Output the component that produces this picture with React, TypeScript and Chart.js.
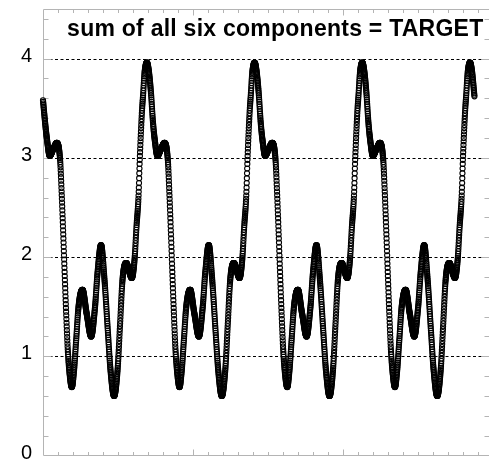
import React, { useEffect, useRef } from "react";
import { Chart, registerables } from "chart.js";

Chart.register(...registerables);

// x positions (sample index) of the key points
const X_VALUES: number[] = [
  0, 15, 27, 45, 69, 92, 114, 124, 134, 144, 154, 165, 177, 192, 207, 221, 237, 263, 291, 321,
  347, 363, 387, 410, 432, 450, 474, 497, 514, 530, 554, 592, 610, 623, 637, 645, 659, 667, 676, 684,
  692, 705, 720, 733, 745, 763, 787, 810, 832, 842, 852, 862, 872, 883, 895, 910, 925, 939, 955, 981,
  1009, 1039, 1065, 1081, 1105, 1128, 1150, 1168, 1192, 1215, 1232, 1248, 1272, 1310, 1328, 1341, 1355, 1363, 1377, 1385,
  1394, 1402,
  1410, 1423, 1438, 1451, 1463, 1481, 1505, 1528, 1550, 1560, 1570, 1580, 1590, 1601, 1613, 1628, 1643, 1657, 1673, 1699,
  1727, 1757, 1783, 1799, 1823, 1846, 1868, 1886, 1910, 1933, 1950, 1966, 1990, 2028, 2046, 2059, 2073, 2081, 2095, 2103,
  2112, 2120,
  2128, 2141, 2156, 2169, 2181, 2199, 2223, 2246, 2268, 2278, 2288, 2298, 2308, 2319, 2331, 2346, 2361, 2375, 2391, 2417,
  2445, 2475, 2501, 2517, 2541, 2564, 2586, 2604, 2628, 2651, 2668, 2684, 2708, 2746, 2764, 2777, 2791, 2799, 2813, 2821,
  2830, 2838,
  2846, 2859, 2876,
];

// summed signal value at each key point
const TARGET_VALUES: number[] = [
  3.58, 3.34, 3.18, 3.02, 3.09, 3.15, 2.98, 2.66, 2.27, 1.85, 1.45, 1.07, 0.83, 0.69, 0.86, 1.16, 1.5, 1.67, 1.43, 1.2,
  1.5, 1.83, 2.12, 1.77, 1.26, 0.86, 0.6, 0.86, 1.33, 1.77, 1.94, 1.79, 1.97, 2.3, 2.62, 2.98, 3.45, 3.63, 3.84, 3.93,
  3.96, 3.88, 3.65, 3.36, 3.18, 3.02, 3.09, 3.15, 2.98, 2.66, 2.27, 1.85, 1.45, 1.07, 0.83, 0.69, 0.86, 1.16, 1.5, 1.67,
  1.43, 1.2, 1.5, 1.83, 2.12, 1.77, 1.26, 0.86, 0.6, 0.86, 1.33, 1.77, 1.94, 1.79, 1.97, 2.3, 2.62, 2.98, 3.45, 3.63,
  3.84, 3.93,
  3.96, 3.88, 3.65, 3.36, 3.18, 3.02, 3.09, 3.15, 2.98, 2.66, 2.27, 1.85, 1.45, 1.07, 0.83, 0.69, 0.86, 1.16, 1.5, 1.67,
  1.43, 1.2, 1.5, 1.83, 2.12, 1.77, 1.26, 0.86, 0.6, 0.86, 1.33, 1.77, 1.94, 1.79, 1.97, 2.3, 2.62, 2.98, 3.45, 3.63,
  3.84, 3.93,
  3.96, 3.88, 3.65, 3.36, 3.18, 3.02, 3.09, 3.15, 2.98, 2.66, 2.27, 1.85, 1.45, 1.07, 0.83, 0.69, 0.86, 1.16, 1.5, 1.67,
  1.43, 1.2, 1.5, 1.83, 2.12, 1.77, 1.26, 0.86, 0.6, 0.86, 1.33, 1.77, 1.94, 1.79, 1.97, 2.3, 2.62, 2.98, 3.45, 3.63,
  3.84, 3.93,
  3.96, 3.88, 3.62,
];

const Y_TICKS: number[] = [0, 1, 2, 3, 4];
const GRID_VALUES: number[] = [1, 2, 3, 4];
const TITLE = "sum of all six components = TARGET";

const X_MIN = 0;
const X_MAX = 2973;
const Y_MIN = 0;
const Y_MAX = 4.5;

const FAMILY = "'Liberation Sans', Arial, Helvetica, sans-serif";
const AXIS_GRAY = "#b4b4b4";

const decorPlugin = {
  id: "decor",
  beforeDatasetsDraw(chart: any) {
    const { ctx, chartArea: a, scales } = chart;
    const xs = scales.x;
    const ys = scales.y;
    ctx.save();
    // dashed horizontal grid
    ctx.strokeStyle = "#000";
    ctx.lineWidth = 1;
    ctx.setLineDash([3, 2.5]);
    for (const v of GRID_VALUES) {
      const y = Math.round(ys.getPixelForValue(v)) + 0.5;
      ctx.beginPath();
      ctx.moveTo(a.left + 1, y);
      ctx.lineTo(a.right, y);
      ctx.stroke();
    }
    ctx.setLineDash([]);
    // frame (right edge falls outside the canvas)
    ctx.strokeStyle = AXIS_GRAY;
    const L = Math.round(a.left) + 0.5;
    const R = Math.round(a.right) + 0.5;
    const T = Math.round(a.top) + 0.5;
    const B = Math.round(a.bottom) - 0.5;
    ctx.beginPath();
    ctx.moveTo(R, T);
    ctx.lineTo(L, T);
    ctx.lineTo(L, B);
    ctx.lineTo(R, B);
    ctx.stroke();
    // y ticks (left and right, inward)
    ctx.beginPath();
    for (let i = 1; i <= 22; i++) {
      const v = i * 0.2;
      if (v > Y_MAX) break;
      const y = Math.round(ys.getPixelForValue(v)) + 0.5;
      const len = Math.abs(v - Math.round(v)) < 1e-6 ? 8 : 5;
      ctx.moveTo(L, y);
      ctx.lineTo(L + len, y);
      ctx.moveTo(R, y);
      ctx.lineTo(R - len, y);
    }
    // x ticks (top and bottom, inward)
    for (let v = 100; v < X_MAX; v += 100) {
      const x = Math.round(xs.getPixelForValue(v)) + 0.5;
      const len = v % 1000 === 0 ? 6 : 3.5;
      ctx.moveTo(x, T);
      ctx.lineTo(x, T + len);
      ctx.moveTo(x, B);
      ctx.lineTo(x, B - len);
    }
    ctx.stroke();
    ctx.restore();
  },
  afterDatasetsDraw(chart: any) {
    const { ctx } = chart;
    const meta = chart.getDatasetMeta(0);
    const line = meta.dataset;
    if (line && typeof line.updateControlPoints === "function") {
      line.updateControlPoints(chart.chartArea, "x");
    }
    const pts = meta.data;
    ctx.save();
    ctx.strokeStyle = "#000";
    ctx.lineWidth = 1.1;
    const r = 2.55;
    const ring = (x: number, y: number) => {
      ctx.beginPath();
      ctx.arc(x, y, r, 0, Math.PI * 2);
      ctx.stroke();
    };
    for (let i = 0; i < pts.length - 1; i++) {
      const p0 = pts[i];
      const p1 = pts[i + 1];
      const n = Math.max(1, Math.round(X_VALUES[i + 1] - X_VALUES[i]));
      const hasCp = p0.cp2x !== undefined && p1.cp1x !== undefined;
      for (let j = 0; j < n; j++) {
        const t = j / n;
        let x: number, y: number;
        if (hasCp) {
          const u = 1 - t;
          const b0 = u * u * u, b1 = 3 * u * u * t, b2 = 3 * u * t * t, b3 = t * t * t;
          x = b0 * p0.x + b1 * p0.cp2x + b2 * p1.cp1x + b3 * p1.x;
          y = b0 * p0.y + b1 * p0.cp2y + b2 * p1.cp1y + b3 * p1.y;
        } else {
          x = p0.x + (p1.x - p0.x) * t;
          y = p0.y + (p1.y - p0.y) * t;
        }
        ring(x, y);
      }
    }
    const last = pts[pts.length - 1];
    if (last) ring(last.x, last.y);
    // title inside the plot
    ctx.fillStyle = "#000";
    ctx.font = `bold 23px ${FAMILY}`;
    try {
      (ctx as any).letterSpacing = "0.25px";
    } catch (e) {}
    ctx.textAlign = "right";
    ctx.textBaseline = "alphabetic";
    ctx.fillText(TITLE, 483.5, 36);
    ctx.restore();
  },
};

export default function App() {
  const ref = useRef<HTMLCanvasElement | null>(null);
  useEffect(() => {
    if (!ref.current) return;
    const data = X_VALUES.map((x, i) => ({ x, y: TARGET_VALUES[i] }));
    const chart = new Chart(ref.current, {
      type: "line",
      data: {
        datasets: [
          {
            label: "TARGET",
            data,
            borderWidth: 0,
            borderColor: "rgba(0,0,0,0)",
            pointRadius: 0,
            pointHoverRadius: 0,
            cubicInterpolationMode: "monotone",
            fill: false,
          },
        ],
      },
      options: {
        animation: false,
        responsive: false,
        devicePixelRatio: 1,
        events: [],
        layout: { padding: { top: 9, bottom: 3.5, left: 0, right: 0 } },
        plugins: { legend: { display: false }, title: { display: false }, tooltip: { enabled: false } },
        scales: {
          x: { type: "linear", min: X_MIN, max: X_MAX, display: false },
          y: {
            type: "linear",
            min: Y_MIN,
            max: Y_MAX,
            position: "left",
            afterFit: (s: any) => {
              s.width = 43;
              s.paddingTop = 0;
              s.paddingBottom = 0;
            },
            afterBuildTicks: (s: any) => {
              s.ticks = Y_TICKS.map((v) => ({ value: v }));
            },
            grid: { display: false, drawTicks: false },
            border: { display: false },
            ticks: {
              padding: 11,
              color: "#000",
              font: { family: FAMILY, size: 20 },
              labelOffset: -2.5,
              callback: (v: any) => String(v),
            },
          },
        },
      },
      plugins: [decorPlugin],
    });
    return () => chart.destroy();
  }, []);
  return (
    <div style={{ position: "absolute", left: 0, top: 0, width: 489, height: 459, background: "#fff" }}>
      <canvas ref={ref} width={489} height={459} style={{ display: "block", width: 489, height: 459 }} />
    </div>
  );
}
